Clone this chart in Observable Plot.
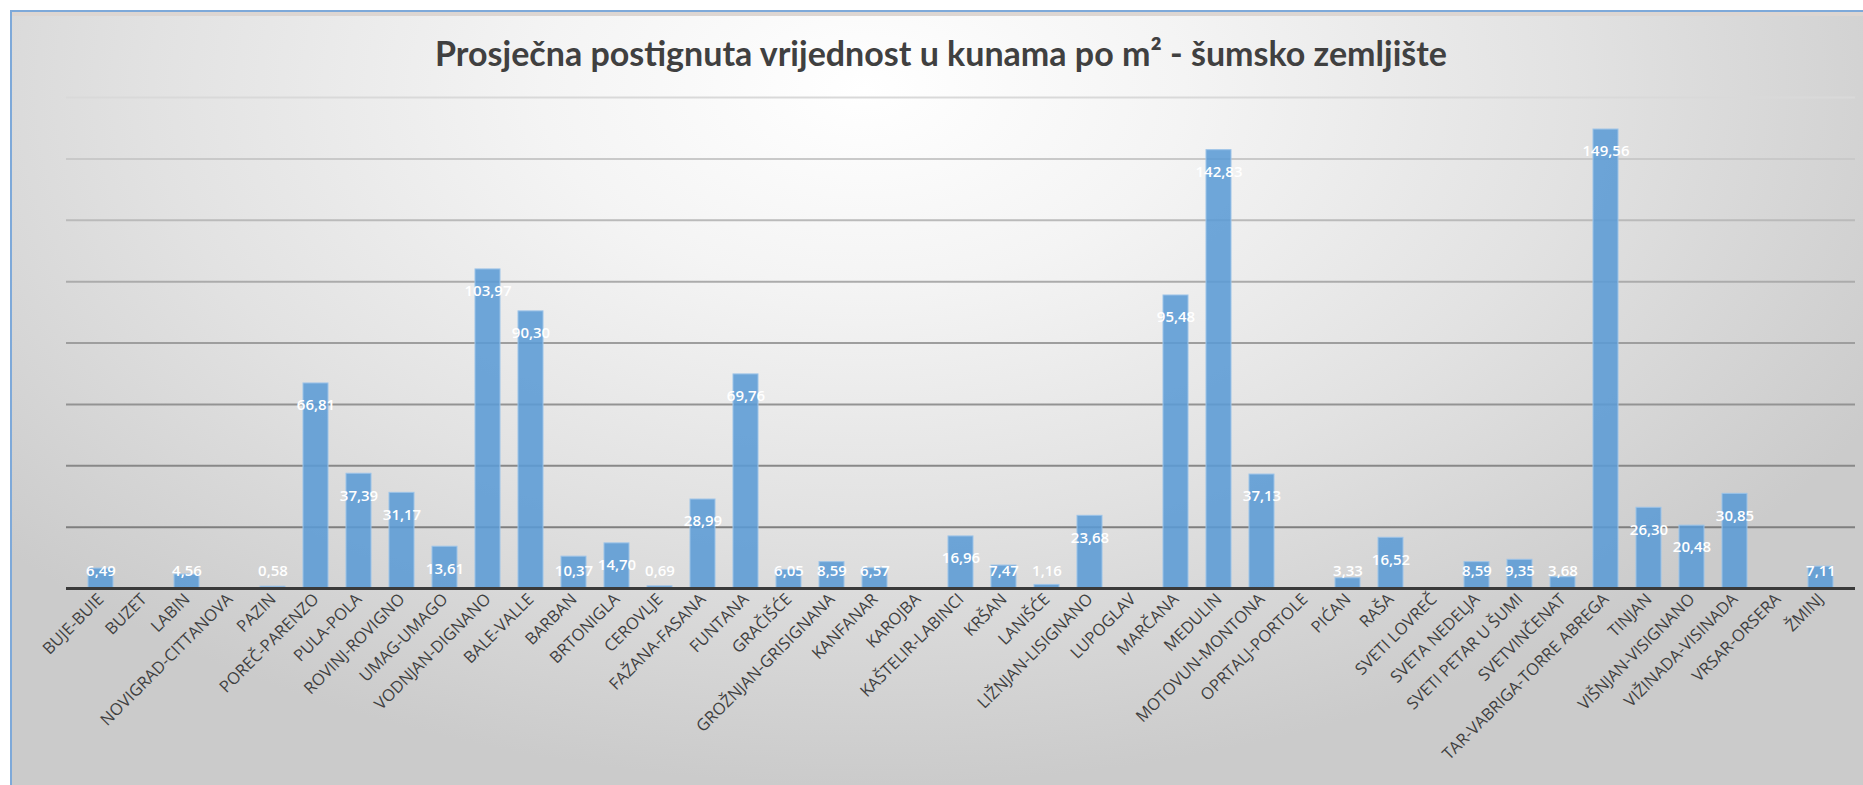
<!DOCTYPE html>
<html>
<head>
<meta charset="utf-8">
<script src="https://cdn.jsdelivr.net/npm/d3@7"></script>
<script src="https://cdn.jsdelivr.net/npm/@observablehq/plot@0.6"></script>
<style>
  html, body { margin: 0; padding: 0; background: #ffffff; width: 1863px; height: 785px; overflow: hidden; }
  #frame {
    position: absolute; left: 10px; top: 10px; width: 1853px; height: 775px;
    box-sizing: border-box;
    border-left: 2px solid #7ea9d9; border-top: 2px solid #7ea9d9;
    background: radial-gradient(ellipse 62% 90% at 46% 10%, #ffffff 0%, #f4f4f4 28%, #e2e2e2 62%, #cbcbcb 100%);
    box-shadow: inset 0 4px 0 #ddd6d2;
    overflow: hidden;
  }
  #title {
    height: 73px; box-sizing: border-box; padding-top: 8px; padding-left: 7px;
    display: flex; align-items: center; justify-content: center;
    font-family: Lato, "Open Sans", sans-serif; font-weight: 700; font-size: 34px; color: #404040;
  }
  #chart svg { display: block; background: transparent; }
</style>
</head>
<body>
<div id="frame">
  <div id="title">Prosječna postignuta vrijednost u kunama po m² - šumsko zemljište</div>
  <div id="chart"></div>
</div>
<script>
const categories = [
  "BUJE-BUIE", "BUZET", "LABIN", "NOVIGRAD-CITTANOVA", "PAZIN", "POREČ-PARENZO",
  "PULA-POLA", "ROVINJ-ROVIGNO", "UMAG-UMAGO", "VODNJAN-DIGNANO", "BALE-VALLE",
  "BARBAN", "BRTONIGLA", "CEROVLJE", "FAŽANA-FASANA", "FUNTANA", "GRAČIŠĆE",
  "GROŽNJAN-GRISIGNANA", "KANFANAR", "KAROJBA", "KAŠTELIR-LABINCI", "KRŠAN",
  "LANIŠĆE", "LIŽNJAN-LISIGNANO", "LUPOGLAV", "MARČANA", "MEDULIN",
  "MOTOVUN-MONTONA", "OPRTALJ-PORTOLE", "PIĆAN", "RAŠA", "SVETI LOVREČ",
  "SVETA NEDELJA", "SVETI PETAR U ŠUMI", "SVETVINČENAT", "TAR-VABRIGA-TORRE ABREGA",
  "TINJAN", "VIŠNJAN-VISIGNANO", "VIŽINADA-VISINADA", "VRSAR-ORSERA", "ŽMINJ"
];
const values = [
  6.49, null, 4.56, null, 0.58, 66.81,
  37.39, 31.17, 13.61, 103.97, 90.30,
  10.37, 14.70, 0.69, 28.99, 69.76, 6.05,
  8.59, 6.57, null, 16.96, 7.47,
  1.16, 23.68, null, 95.48, 142.83,
  37.13, null, 3.33, 16.52, null,
  8.59, 9.35, 3.68, 149.56,
  26.30, 20.48, 30.85, null, 7.11
];
const gridTicks = [20, 40, 60, 80, 100, 120, 140, 160];
const gridColors = ["#7f7f7f", "#888888", "#939393", "#9e9e9e", "#ababab", "#bababa", "#c9c9c9", "#d9d9d9"];

const data = categories.map((c, i) => ({c, v: values[i]}));
const withValue = data.filter(d => d.v != null);
const fmt = v => d3.format(".2f")(v).replace(".", ",");

const chart = Plot.plot({
  width: 1851,
  height: 700,
  marginLeft: 54,
  marginRight: 8,
  marginTop: 12,
  marginBottom: 197,
  style: {fontFamily: "'Open Sans', sans-serif", fontSize: "16.5px", color: "#404040", background: "transparent", overflow: "visible"},
  x: {domain: categories, padding: 0.43, label: null, tickRotate: -45, tickSize: 0, tickPadding: 8},
  y: {domain: [0, 160], axis: null},
  marks: [
    Plot.ruleY(gridTicks, {y: d => d, stroke: (d, i) => gridColors[i], strokeWidth: 2}),
    Plot.barY(withValue, {x: "c", y: "v", fill: "#5b9bd5", fillOpacity: 0.88, stroke: "#9cc3e8", strokeWidth: 1}),
    Plot.ruleY([0], {stroke: "#3a3a3a", strokeWidth: 3}),
    Plot.text(withValue, {
      x: "c", y: d => Math.max(d.v, 12.7), dy: 22, text: d => fmt(d.v),
      fill: "white", fontSize: 15, fontWeight: 600, lineAnchor: "middle"
    })
  ]
});
document.getElementById("chart").appendChild(chart);
</script>
</body>
</html>
